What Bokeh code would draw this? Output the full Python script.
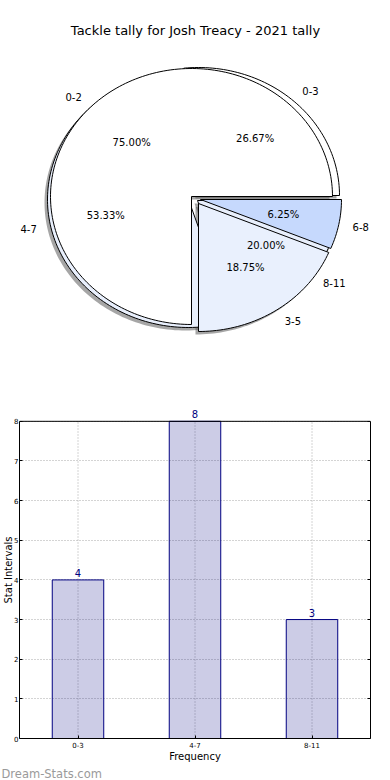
import numpy as np
from bokeh.plotting import figure
from bokeh.layouts import column
from bokeh.models import (ColumnDataSource, Label, LabelSet, Range1d, FactorRange,
                          LinearAxis, FixedTicker, Span, Title)
from bokeh.embed import file_html
from bokeh.resources import INLINE
from bokeh.core.properties import value

# ---------------- data ----------------
title_text = "Tackle tally for Josh Treacy - 2021 tally"
bar_categories = ["0-3", "4-7", "8-11"]
bar_values = [4, 8, 3]
pie_b_labels = ["0-2", "3-5", "6-8"]
pie_b_values = [12, 3, 1]
y_ticks = [0, 1, 2, 3, 4, 5, 6, 7, 8]
x_axis_label = "Frequency"
y_axis_label = "Stat Intervals"
watermark = "Dream-Stats.com"

# ---------------- style ----------------
FONT = "DejaVu Sans"
W = 390
PIE_H = 400
BAR_H = 380
RX, RY = 141.0, 128.0          # pixels per data unit (ellipse radii)
CX, CY = 191.0, 196.0          # pie centre in figure pixels
colors_a = ["#ffffff", "#e8effc", "#e8effc"]
colors_b = ["#ffffff", "#e9f0fd", "#c6d9fd"]
offs_a = [(7, -1), (-3, 3), (6, 4)]   # explode offsets in px (right, down)
offs_b = [(0, 0), (7, 7), (9, 3)]
SHADOW = (-3, 3)
HEADROOM = 0.5

pie = figure(width=W, height=PIE_H,
             x_range=Range1d(-CX / RX, (W - CX) / RX),
             y_range=Range1d(-(PIE_H - CY) / RY, CY / RY),
             x_axis_type=None, y_axis_type=None,
             output_backend="svg", toolbar_location=None, min_border=0)
pie.outline_line_color = None
pie.frame_align = False


def wedge_path(a0, a1, dx, dy):
    n = max(int(abs(a1 - a0) / 1.5) + 2, 4)
    t = np.radians(np.linspace(a0, a1, n))
    xs = np.concatenate([[dx], dx + np.cos(t), [dx]])
    ys = np.concatenate([[dy], dy + np.sin(t), [dy]])
    return xs.tolist(), ys.tolist()


def build(labels, vals, colors, offs):
    vals = np.asarray(vals, dtype=float)
    edges = np.concatenate([[0.0], np.cumsum(vals / vals.sum())]) * 360.0
    d = dict(xs=[], ys=[], sxs=[], sys=[], color=[],
             lx=[], ly=[], lt=[], la=[], px=[], py=[], pt=[])
    for i, lab in enumerate(labels):
        a0, a1 = edges[i], edges[i + 1]
        dx, dy = offs[i][0] / RX, -offs[i][1] / RY
        xs, ys = wedge_path(a0, a1, dx, dy)
        sxs, sys_ = wedge_path(a0, a1, dx + SHADOW[0] / RX, dy - SHADOW[1] / RY)
        d["xs"].append(xs); d["ys"].append(ys)
        d["sxs"].append(sxs); d["sys"].append(sys_)
        d["color"].append(colors[i])
        mid = np.radians((a0 + a1) / 2)
        d["lx"].append(dx + 1.1 * np.cos(mid)); d["ly"].append(dy + 1.1 * np.sin(mid))
        d["lt"].append(lab); d["la"].append("left" if np.cos(mid) > 0 else "right")
        d["px"].append(dx + 0.6 * np.cos(mid)); d["py"].append(dy + 0.6 * np.sin(mid))
        d["pt"].append("%.2f%%" % (100.0 * vals[i] / vals.sum()))
    return d


A = build(bar_categories, bar_values, colors_a, offs_a)
B = build(pie_b_labels, pie_b_values, colors_b, offs_b)

for D in (A, B):
    pie.patches(xs=D["sxs"], ys=D["sys"], fill_color="#4d4d4d", fill_alpha=0.5, line_color=None)
for D in (A, B):
    pie.patches(xs=D["xs"], ys=D["ys"], fill_color=D["color"], line_color="black", line_width=1)

for D in (A, B):
    for side in ("left", "right"):
        idx = [i for i, a in enumerate(D["la"]) if a == side]
        pie.text(x=[D["lx"][i] for i in idx], y=[D["ly"][i] for i in idx],
                 text=[D["lt"][i] for i in idx], text_align=side, text_baseline="middle",
                 text_font=value(FONT), text_font_size="10px", text_color="black")
    pie.text(x=D["px"], y=D["py"], text=D["pt"], text_align="center", text_baseline="middle",
             text_font=value(FONT), text_font_size="10px", text_color="black")

pie.add_layout(Label(x=(195 - CX) / RX, y=(CY - 30) / RY, text=title_text,
                     text_align="center", text_baseline="middle",
                     text_font=FONT, text_font_size="13px", text_color="black"))

# ---------------- bar chart ----------------
ymax = max(y_ticks)
src = ColumnDataSource(dict(cat=bar_categories, val=bar_values,
                            txt=[str(v) for v in bar_values]))
bar = figure(width=W, height=BAR_H, x_range=FactorRange(factors=bar_categories),
             y_range=Range1d(0, ymax + HEADROOM),
             output_backend="svg", toolbar_location=None,
             min_border_left=19, min_border_right=20, min_border_top=1, min_border_bottom=40)
bar.outline_line_color = None
bar.frame_align = False

bar.xgrid.visible = False
bar.ygrid[0].grid_line_color = "#a8a8a8"
bar.ygrid[0].grid_line_dash = "1 2"
bar.ygrid[0].grid_line_width = 1
bar.segment(x0="cat", y0=0, x1="cat", y1=ymax, source=src, line_color="#a8a8a8",
            line_dash="1 2", line_width=1)

bar.vbar(x="cat", top="val", width=0.44, source=src, fill_color="navy", fill_alpha=0.2,
         line_color="navy", line_width=1)
bar.add_layout(LabelSet(x="cat", y="val", text="txt", source=src, y_offset=3,
                        text_align="center", text_baseline="bottom",
                        text_font=value(FONT), text_font_size="10px", text_color="navy"))

bar.yaxis.ticker = FixedTicker(ticks=y_ticks)
bar.yaxis.bounds = (0, ymax)
for ax in (bar.xaxis[0], bar.yaxis[0]):
    ax.major_label_text_font_size = "7px"
    ax.major_label_text_font = FONT
    ax.major_label_text_color = "black"
    ax.major_tick_in = 3
    ax.major_tick_out = 0
    ax.minor_tick_in = 0
    ax.minor_tick_out = 0
    ax.axis_line_color = "black"
    ax.major_tick_line_color = "black"
    ax.axis_label_text_font = FONT
    ax.axis_label_text_font_size = "10px"
    ax.axis_label_text_font_style = "normal"
    ax.axis_label_text_color = "black"
bar.yaxis.major_label_standoff = 1
bar.yaxis.axis_label_standoff = -3
bar.xaxis.major_label_standoff = 3
bar.xaxis.axis_label_standoff = 0
bar.xaxis.axis_label = x_axis_label
bar.yaxis.axis_label = y_axis_label

bar.add_layout(LinearAxis(ticker=FixedTicker(ticks=y_ticks), bounds=(0, ymax),
                          major_tick_in=3, major_tick_out=0, minor_tick_in=0, minor_tick_out=0,
                          major_label_text_color=None, major_label_text_font_size="7px",
                          major_label_standoff=0, axis_line_color="black"), "right")
bar.add_layout(Span(location=ymax, dimension="width", line_color="black", line_width=1))

bar.add_layout(Title(text=watermark, align="left", text_font=FONT, text_font_size="11.5px",
                     text_font_style="normal", text_color="#9a9a9a", standoff=0, offset=-18),
               "below")

layout = column(pie, bar, spacing=0)
open("out.html", "w").write(file_html(layout, INLINE))
